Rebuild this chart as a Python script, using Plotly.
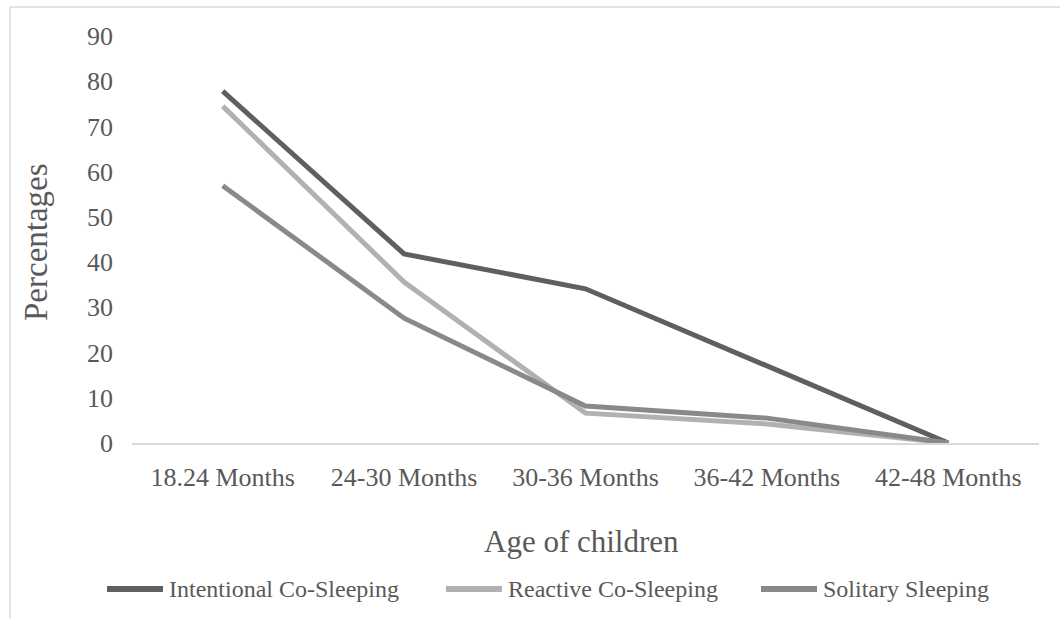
import plotly.graph_objects as go

# ---- data ----
categories = ["18.24 Months", "24-30 Months", "30-36 Months", "36-42 Months", "42-48 Months"]
intentional = [77.8, 41.8, 34.1, 17.0, 0.0]
reactive = [74.5, 35.6, 6.6, 4.2, 0.0]
solitary = [56.9, 27.6, 8.2, 5.5, 0.0]
series_names = ["Intentional Co-Sleeping", "Reactive Co-Sleeping", "Solitary Sleeping"]
y_ticks = [0, 10, 20, 30, 40, 50, 60, 70, 80, 90]

# ---- style ----
colors = ["#5f5f5f", "#b1b1b1", "#898989"]
FONT = "Liberation Serif, Times New Roman, serif"
TXT = "#595959"
W, H = 1060, 618
L, R, T, B = 132, 21, 36, 175
PW, PH = W - L - R, H - T - B


def px_x(px):
    return (px - L) / PW


def px_y(py):
    return (H - B - py) / PH


fig = go.Figure()
for name, vals, col in zip(series_names, [intentional, reactive, solitary], colors):
    fig.add_trace(go.Scatter(
        x=categories, y=vals, mode="lines", name=name,
        line=dict(color=col, width=5), showlegend=False,
    ))

fig.update_layout(
    width=W, height=H,
    margin=dict(l=L, r=R, t=T, b=B),
    paper_bgcolor="white", plot_bgcolor="white",
    font=dict(family=FONT, color=TXT, size=26),
    xaxis=dict(
        type="category", range=[-0.5, 4.5],
        showgrid=False, zeroline=False,
        showline=True, linecolor="#d9d9d9", linewidth=1.5,
        ticks="", tickfont=dict(size=26, color=TXT, family=FONT),
        ticklabelstandoff=10,
    ),
    yaxis=dict(
        range=[0, 90], tickvals=y_ticks,
        showgrid=False, zeroline=False, showline=False,
        ticks="", tickfont=dict(size=26, color=TXT, family=FONT),
        ticklabelstandoff=18,
    ),
)

annotations = [
    dict(text="Age of children", xref="paper", yref="paper",
         x=px_x(581), y=px_y(541), xanchor="center", yanchor="middle",
         showarrow=False, font=dict(size=31, color=TXT, family=FONT)),
    dict(text="Percentages", xref="paper", yref="paper",
         x=px_x(36), y=px_y(242), xanchor="center", yanchor="middle",
         textangle=-90, showarrow=False, font=dict(size=33, color=TXT, family=FONT)),
]

shapes = [
    # outer chart frame (partially visible)
    dict(type="line", xref="paper", yref="paper",
         x0=px_x(10), x1=px_x(1075), y0=px_y(7), y1=px_y(7),
         line=dict(color="#d9d9d9", width=1.5)),
    dict(type="line", xref="paper", yref="paper",
         x0=px_x(10), x1=px_x(10), y0=px_y(7), y1=px_y(630),
         line=dict(color="#d9d9d9", width=1.5)),
]

# custom legend (long line keys as in the reference)
legend_sym = [(107, 163), (446, 502), (761, 817)]
legend_y = 589
for name, col, (s0, s1) in zip(series_names, colors, legend_sym):
    shapes.append(dict(type="line", xref="paper", yref="paper",
                       x0=px_x(s0), x1=px_x(s1), y0=px_y(legend_y), y1=px_y(legend_y),
                       line=dict(color=col, width=6)))
    annotations.append(dict(text=name, xref="paper", yref="paper",
                            x=px_x(s1 + 4), y=px_y(legend_y), xanchor="left", yanchor="middle",
                            showarrow=False, font=dict(size=24, color=TXT, family=FONT)))

fig.update_layout(annotations=annotations, shapes=shapes)
fig.write_html(
    "out.html",
    config={"displayModeBar": False},
    post_script="document.body.style.margin='0';document.body.style.overflow='hidden';",
)
